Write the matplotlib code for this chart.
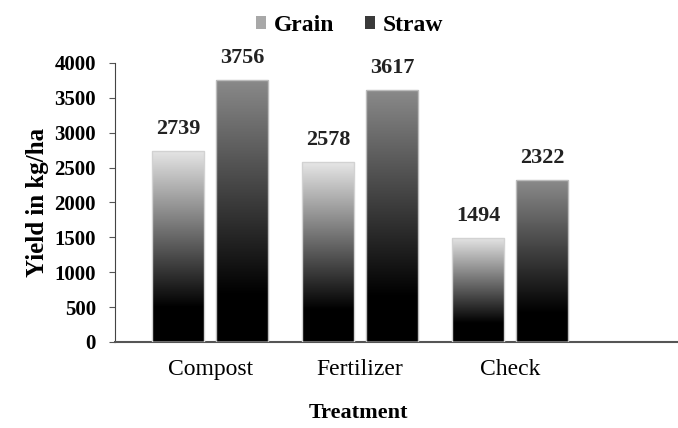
import numpy as np
import matplotlib
matplotlib.use("Agg")
import matplotlib.pyplot as plt
from matplotlib.colors import LinearSegmentedColormap
from matplotlib.patches import Patch

categories = ["Compost", "Fertilizer", "Check"]
grain = [2739, 2578, 1494]
straw = [3756, 3617, 2322]
series_names = ["Grain", "Straw"]

plt.rcParams["font.family"] = ["Liberation Serif", "DejaVu Serif"]

fig = plt.figure(figsize=(6.78, 4.28), dpi=100)
ax = fig.add_axes([0.170, 0.201, 0.83, 0.652])

x = np.arange(len(categories))
w = 0.345
off = 0.213

# gradient: black at bottom, light at top
def grad_cmap(top):
    return LinearSegmentedColormap.from_list(
        "g", [(0, "black"), (0.18, "black"), (1, top)])

cm_grain = grad_cmap("#e6e6e6")
cm_straw = grad_cmap("#8a8a8a")

bars_g = ax.bar(x - off, grain, w, color="none", edgecolor="#d2d2d2", linewidth=1.0, zorder=3)
bars_s = ax.bar(x + off, straw, w, color="none", edgecolor="#bcbcbc", linewidth=1.0, zorder=3)

grad = np.linspace(0, 1, 256).reshape(-1, 1)
for bars, cm in [(bars_g, cm_grain), (bars_s, cm_straw)]:
    for b in bars:
        bx, by = b.get_x(), b.get_y()
        bw, bh = b.get_width(), b.get_height()
        im = ax.imshow(grad, cmap=cm, origin="lower", aspect="auto",
                       extent=[bx, bx + bw, by, by + bh], zorder=2)
        im.set_clip_path(b)

for vals, shift in [(grain, -off), (straw, off)]:
    for xi, v in zip(x, vals):
        ax.text(xi + shift, v + 170, str(v), ha="center", va="bottom",
                fontsize=16, fontweight="bold", color="#222222")

ax.set_xlim(-0.633, 3.12)
ax.set_ylim(0, 4000)
ax.set_yticks(np.arange(0, 4001, 500))
ax.set_yticklabels([str(t) for t in range(0, 4001, 500)], fontsize=15, fontweight="bold")
ax.set_xticks(x)
ax.set_xticklabels(categories, fontsize=17)
ax.tick_params(axis="x", length=0, pad=12)
ax.tick_params(axis="y", length=4, color="#555555", pad=10)

for s in ["top", "right"]:
    ax.spines[s].set_visible(False)
ax.spines["left"].set_color("#444444")
ax.spines["bottom"].set_color("#555555")
ax.spines["bottom"].set_linewidth(1.5)

ax.set_ylabel("Yield in kg/ha", fontsize=18, fontweight="bold", labelpad=4)
fig.text(0.528, 0.012, "Treatment", ha="center", va="bottom",
         fontsize=16, fontweight="bold")

handles = [Patch(facecolor="#a8a8a8", edgecolor="none"),
           Patch(facecolor="#3a3a3a", edgecolor="none")]
fig.legend(handles, series_names, loc="upper center", bbox_to_anchor=(0.515, 1.015),
           ncol=2, frameon=False, handlelength=0.45, handleheight=0.45,
           handletextpad=0.3, columnspacing=1.3,
           prop={"family": ["Liberation Serif"], "weight": "bold", "size": 17})

fig.savefig("out.png", dpi=100)
